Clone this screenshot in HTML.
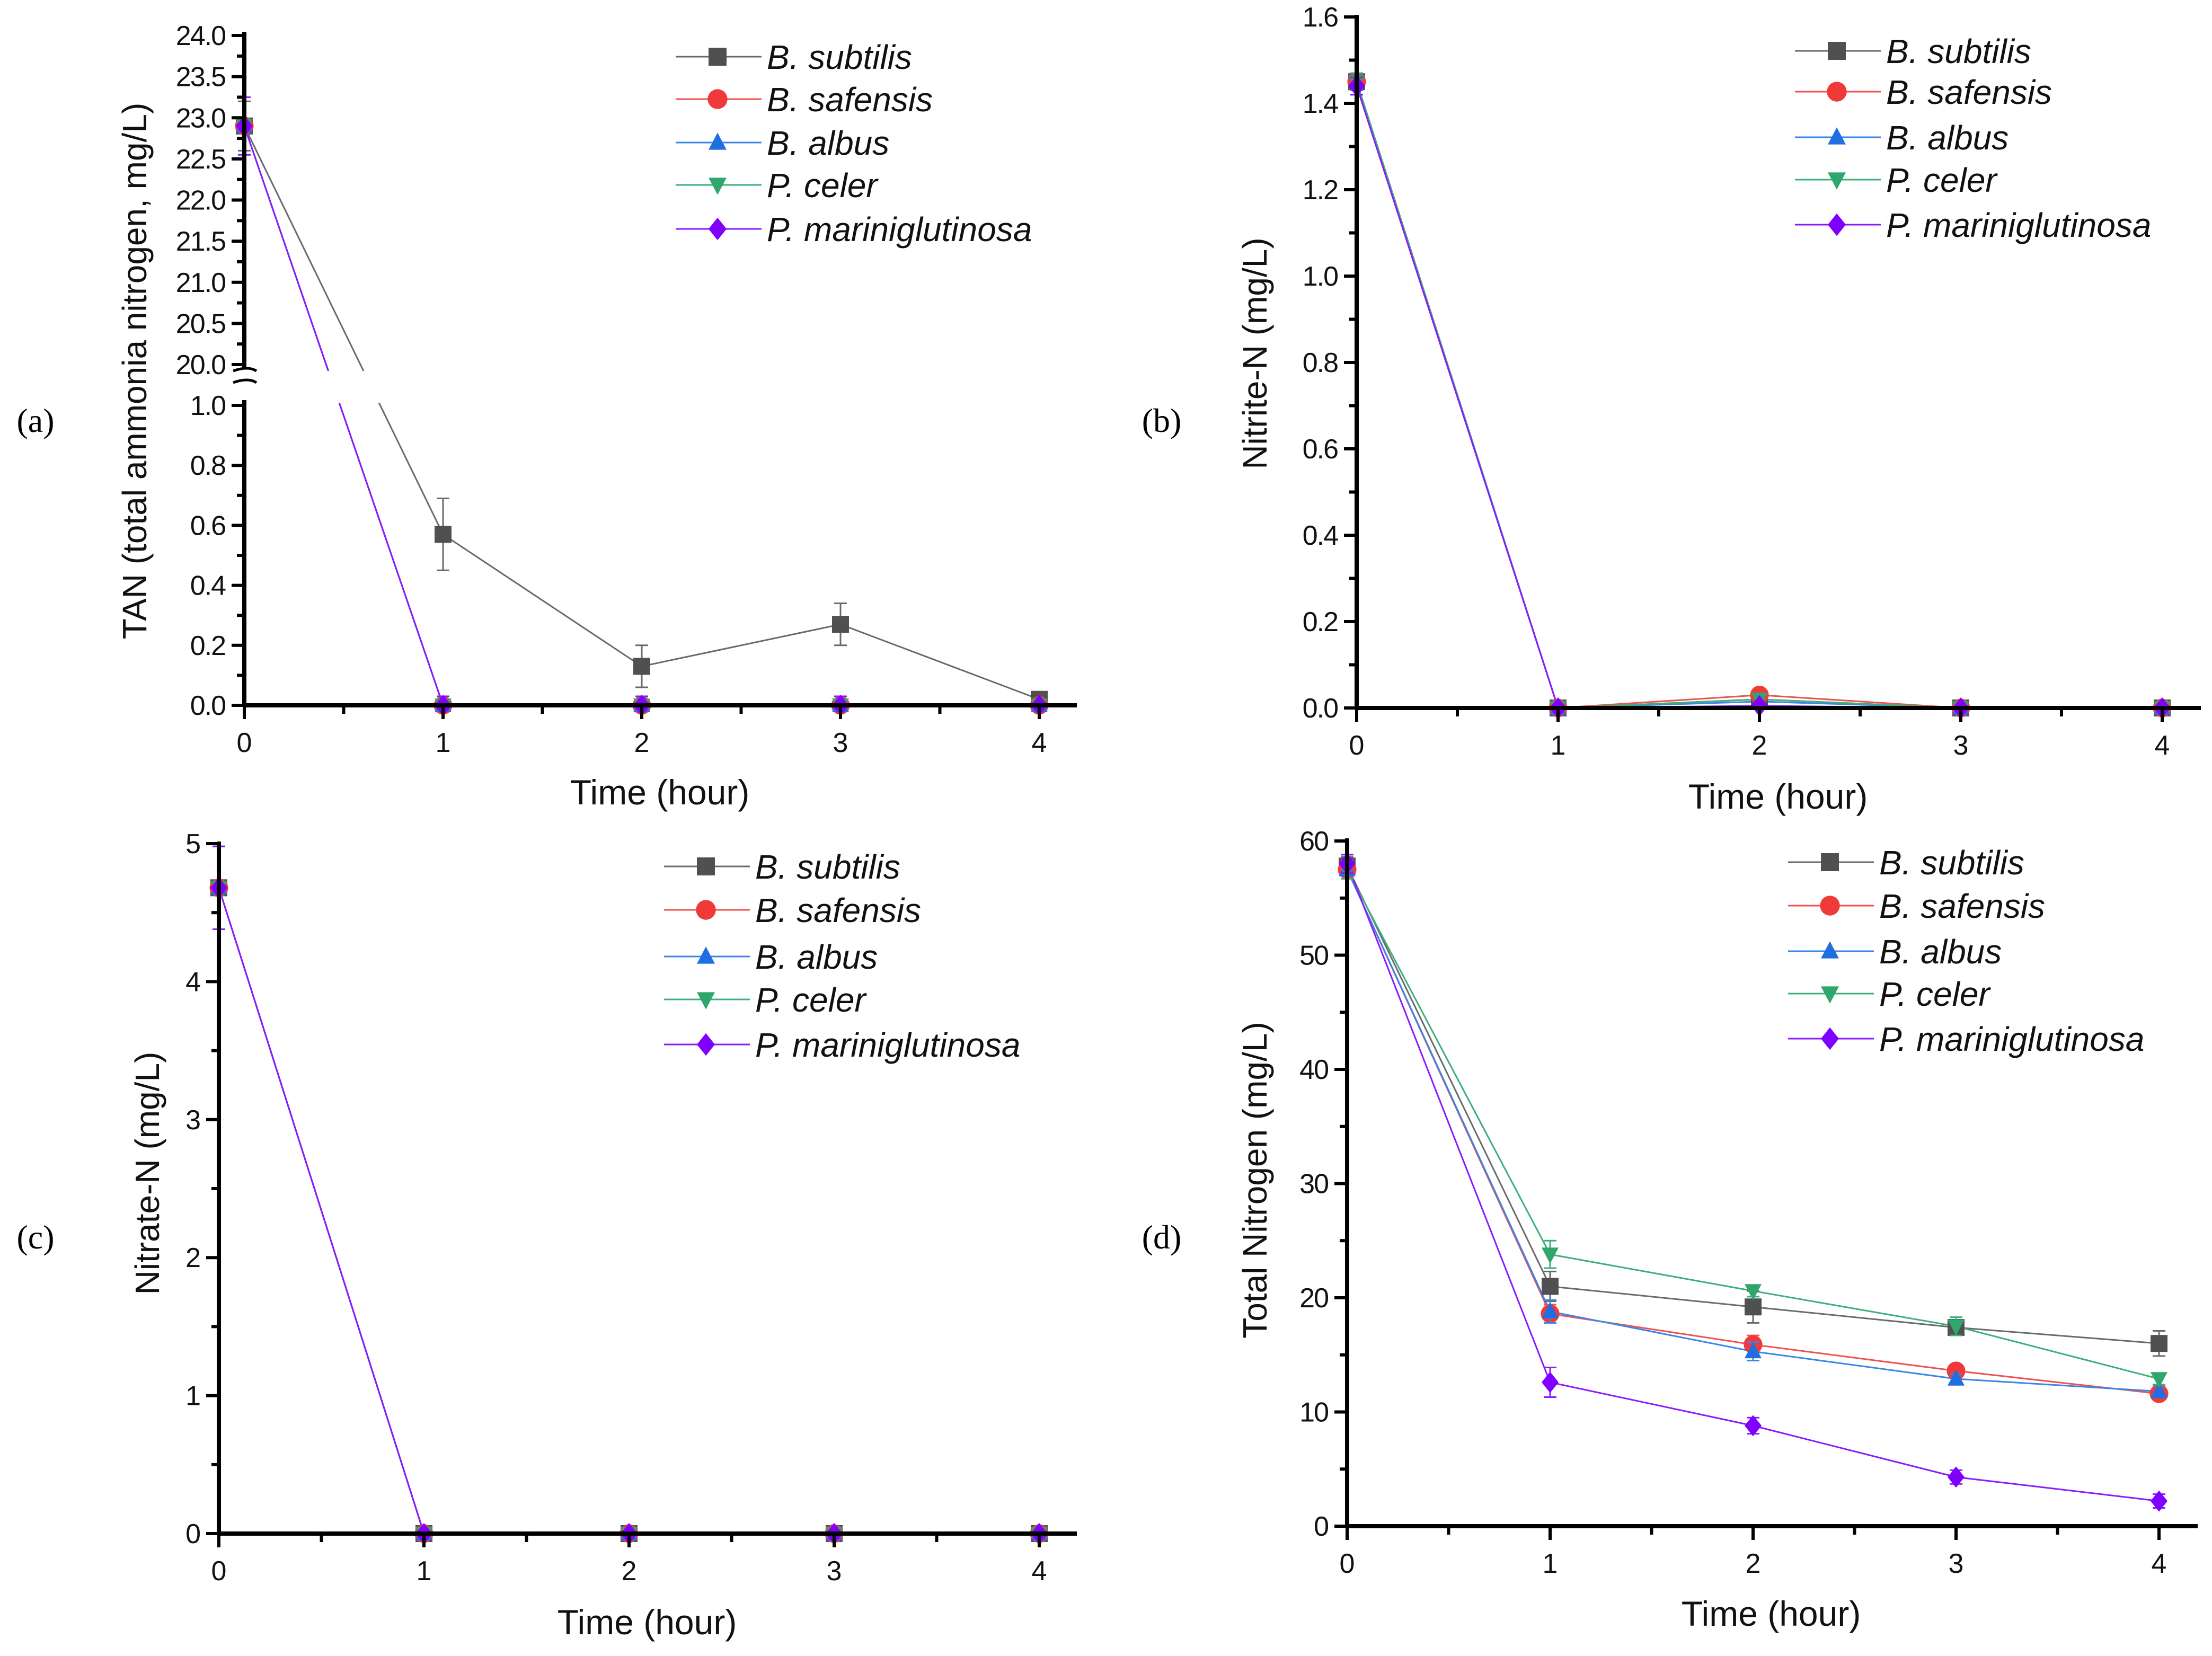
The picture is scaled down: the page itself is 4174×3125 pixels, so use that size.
<!DOCTYPE html>
<html><head><meta charset="utf-8"><style>
html,body{margin:0;padding:0;background:#fff;}
svg{display:block;font-family:"Liberation Sans",sans-serif;}
</style></head><body>
<svg id="fig" width="4174" height="3125" viewBox="0 0 4174 3125" xmlns="http://www.w3.org/2000/svg"></svg>
<script>
const times = [0, 1, 2, 3, 4];
const seriesNames = ["B. subtilis", "B. safensis", "B. albus", "P. celer", "P. mariniglutinosa"];
// Panel a (TAN)
const tanSubtilis = [22.9, 0.57, 0.13, 0.27, 0.02];
const tanSafensis = [22.9, 0, 0, 0, 0];
const tanAlbus = [22.9, 0, 0, 0, 0];
const tanCeler = [22.9, 0, 0, 0, 0];
const tanMarini = [22.9, 0, 0, 0, 0];
const tanSubtilisErr = [0.3, 0.12, 0.07, 0.07, 0.01];
const tanOtherErr = [0.35, 0.03, 0.03, 0.03, 0.01];
// Panel b (nitrite)
const niSubtilis = [1.45, 0, 0.02, 0, 0];
const niSafensis = [1.45, 0, 0.03, 0, 0];
const niAlbus = [1.45, 0, 0.015, 0, 0];
const niCeler = [1.45, 0, 0.02, 0, 0];
const niMarini = [1.44, 0, 0.005, 0, 0];
// Panel c (nitrate)
const naSubtilis = [4.68, 0, 0, 0, 0];
const naSafensis = [4.68, 0, 0, 0, 0];
const naAlbus = [4.68, 0, 0, 0, 0];
const naCeler = [4.68, 0, 0, 0, 0];
const naMarini = [4.68, 0, 0, 0, 0];
// Panel d (total nitrogen)
const tnSubtilis = [57.8, 21.0, 19.2, 17.4, 16.0];
const tnSafensis = [57.5, 18.6, 15.9, 13.6, 11.6];
const tnAlbus = [57.5, 18.8, 15.3, 12.9, 11.8];
const tnCeler = [57.5, 23.8, 20.6, 17.5, 12.9];
const tnMarini = [58.0, 12.6, 8.8, 4.3, 2.2];
const tnSubtilisErr = [0.8, 1.3, 1.4, 0.5, 1.1];
const tnSafensisErr = [0.8, 0.8, 0.8, 0.4, 0.5];
const tnAlbusErr = [0.8, 1.0, 0.8, 0.4, 0.5];
const tnCelerErr = [0.8, 1.2, 0.5, 0.8, 0.5];
const tnMariniErr = [0.8, 1.3, 0.7, 0.6, 0.6];
const xTicks = [0, 1, 2, 3, 4];
const aUpperTicks = ["20.0","20.5","21.0","21.5","22.0","22.5","23.0","23.5","24.0"];
const aLowerTicks = ["0.0","0.2","0.4","0.6","0.8","1.0"];
const bTicks = ["0.0","0.2","0.4","0.6","0.8","1.0","1.2","1.4","1.6"];
const cTicks = ["0","1","2","3","4","5"];
const dTicks = ["0","10","20","30","40","50","60"];

const colors = ["#505050", "#f03a3a", "#1f6fe0", "#2ea66c", "#8000ff"];
const lineColors = ["#6a6a6a", "#f05050", "#3a85e8", "#3cb07a", "#8a1aff"];
const shapes = ["square", "circle", "up", "down", "diamond"];
const NS = "http://www.w3.org/2000/svg";
const svg = document.getElementById("fig");

function mk(tag, attrs, parent, text) {
  const e = document.createElementNS(NS, tag);
  for (const k in attrs) e.setAttribute(k, attrs[k]);
  if (text !== undefined) e.textContent = text;
  (parent || svg).appendChild(e);
  return e;
}
function marker(g, shape, x, y, s, col) {
  let e;
  if (shape === "square") e = mk("rect", {x: x - s, y: y - s, width: 2 * s, height: 2 * s, fill: col}, g);
  else if (shape === "circle") e = mk("circle", {cx: x, cy: y, r: s * 1.1, fill: col}, g);
  else if (shape === "up") e = mk("polygon", {points: `${x},${y - s * 1.1} ${x - s},${y + s * 0.8} ${x + s},${y + s * 0.8}`, fill: col}, g);
  else if (shape === "down") e = mk("polygon", {points: `${x},${y + s * 1.1} ${x - s},${y - s * 0.8} ${x + s},${y - s * 0.8}`, fill: col}, g);
  else e = mk("polygon", {points: `${x},${y - s * 1.25} ${x - s},${y} ${x},${y + s * 1.25} ${x + s},${y}`, fill: col}, g);
  
  
  return e;
}

function panel(p) {
  const g = mk("g", {});
  
  
  const xs = t => p.x0 + t * p.dx;
  for (let i = 0; i < p.data.length; i++) {
    const sg = mk("g", {}, g);
    
    
    const pts = times.map((t, j) => xs(t) + "," + p.ys(p.data[i][j])).join(" ");
    mk("polyline", {points: pts, fill: "none", stroke: lineColors[i], "stroke-width": 3}, sg);
  }
  if (p.breakBand) {
    const r = mk("rect", {x: p.x0 + 6, y: p.breakBand[0], width: 600, height: p.breakBand[1] - p.breakBand[0], fill: "#fff"}, g);
    
    
  }
  for (let i = 0; i < p.data.length; i++) {
    const sg = mk("g", {}, g);
    
    
    times.forEach((t, j) => {
      const v = p.data[i][j];
      const e = p.err ? p.err[i][j] : 0;
      const x = xs(t);
      if (e > 0) {
        const y1 = p.ys(v + e), y2 = p.ys(Math.max(v - e, p.ymin));
        mk("line", {x1: x, x2: x, y1: y1, y2: y2, stroke: lineColors[i], "stroke-width": 3}, sg);
        mk("line", {x1: x - 12, x2: x + 12, y1: y1, y2: y1, stroke: lineColors[i], "stroke-width": 3}, sg);
        mk("line", {x1: x - 12, x2: x + 12, y1: y2, y2: y2, stroke: lineColors[i], "stroke-width": 3}, sg);
      }
      marker(sg, shapes[i], x, p.ys(v), 16, colors[i]);
    });
  }
  const ax = mk("line", {x1: p.x0, x2: p.xEnd, y1: p.axisY, y2: p.axisY, stroke: "#000", "stroke-width": 8}, g);
  
  
  const ay = mk("line", {x1: p.x0, x2: p.x0, y1: p.yTop, y2: p.axisY + 3, stroke: "#000", "stroke-width": 8}, g);
  
  
  xTicks.forEach(t => {
    const x = xs(t);
    mk("line", {x1: x, x2: x, y1: p.axisY, y2: p.axisY + 26, stroke: "#000", "stroke-width": 6}, g);
    if (t < 4) mk("line", {x1: xs(t + 0.5), x2: xs(t + 0.5), y1: p.axisY, y2: p.axisY + 16, stroke: "#000", "stroke-width": 6}, g);
    const tl = mk("text", {x: x, y: p.axisY + 88, "font-size": 52, "text-anchor": "middle", fill: "#111"}, g, String(t));
    
    
  });
  p.yTickSets.forEach(set => {
    set.labels.forEach((lab, k) => {
      const v = parseFloat(lab);
      const y = set.map(v);
      mk("line", {x1: p.x0 - 24, x2: p.x0, y1: y, y2: y, stroke: "#000", "stroke-width": 6}, g);
      if (k < set.labels.length - 1) {
        const ym = set.map(v + set.step / 2);
        mk("line", {x1: p.x0 - 14, x2: p.x0, y1: ym, y2: ym, stroke: "#000", "stroke-width": 6}, g);
      }
      const tl = mk("text", {x: p.x0 - 36, y: y + 18, "font-size": 52, "text-anchor": "end", fill: "#111", "letter-spacing": -2}, g, lab);
      
      
    });
  });
  const yt = mk("text", {x: 0, y: 0, "font-size": 64, "text-anchor": "middle", fill: "#111", transform: `translate(${p.yTitleX},${p.yTitleY}) rotate(-90)`}, g, p.yTitle);
  
  
  const xt = mk("text", {x: p.xTitleX, y: p.xTitleY, "font-size": 66, "text-anchor": "middle", fill: "#111"}, g, "Time (hour)");
  
  
  const pl = mk("text", {x: p.labelX, y: p.labelY, "font-size": 64, "text-anchor": "middle", fill: "#000", "font-family": "Liberation Serif, serif"}, g, p.label);
  
  
  const lg = mk("g", {}, g);
  
  
  seriesNames.forEach((n, i) => {
    const y = p.legY[i];
    const le = mk("g", {}, lg);
    
    
    mk("line", {x1: p.legX, x2: p.legX + 162, y1: y, y2: y, stroke: lineColors[i], "stroke-width": 3}, le);
    marker(le, shapes[i], p.legX + 79, y, 17, colors[i]);
    mk("text", {x: p.legX + 172, y: y + 23, "font-size": 64, "font-style": "italic", fill: "#111"}, le, n);
  });
}

const aUp = v => 688 - (v - 20) * 155.25;
const aLow = v => 1331 - v * 566;
const aMap = v => v >= 10 ? aUp(v) : aLow(v);
panel({name: "panel-a", x0: 461, dx: 375, xEnd: 2032, axisY: 1331, yTop: 60, ymin: 0,
  ys: aMap,
  data: [tanSubtilis, tanSafensis, tanAlbus, tanCeler, tanMarini],
  err: [tanSubtilisErr, tanOtherErr, tanOtherErr, tanOtherErr, tanOtherErr],
  breakBand: [700, 760],
  yTickSets: [{labels: aUpperTicks, map: aUp, step: 0.5}, {labels: aLowerTicks, map: aLow, step: 0.2}],
  yTitle: "TAN (total ammonia nitrogen, mg/L)", yTitleX: 276, yTitleY: 700,
  xTitleX: 1245, xTitleY: 1518, label: "(a)", labelX: 67, labelY: 815,
  legX: 1275, legY: [107, 187, 269, 349, 432]});
mk("rect", {x: 452, y: 695, width: 20, height: 60, fill: "#fff"});
mk("path", {d: "M440,700 q28,-10 44,0 M440,722 q28,-10 44,0", stroke: "#000", "stroke-width": 5, fill: "none"});

panel({name: "panel-b", x0: 2560, dx: 380, xEnd: 4153, axisY: 1336, yTop: 28, ymin: 0,
  ys: v => 1336 - v * 815,
  data: [niSubtilis, niSafensis, niAlbus, niCeler, niMarini],
  err: [[0.02,0,0,0,0],[0.02,0,0,0,0],[0.02,0,0,0,0],[0.02,0,0,0,0],[0.02,0,0,0,0]],
  yTickSets: [{labels: bTicks, map: v => 1336 - v * 815, step: 0.2}],
  yTitle: "Nitrite-N (mg/L)", yTitleX: 2390, yTitleY: 667,
  xTitleX: 3355, xTitleY: 1526, label: "(b)", labelX: 2192, labelY: 815,
  legX: 3387, legY: [96, 173, 259, 339, 424]});

panel({name: "panel-c", x0: 413, dx: 387, xEnd: 2032, axisY: 2894, yTop: 1588, ymin: 0,
  ys: v => 2894 - v * 260.4,
  data: [naSubtilis, naSafensis, naAlbus, naCeler, naMarini],
  err: [[0.3,0,0,0,0],[0.3,0,0,0,0],[0.3,0,0,0,0],[0.3,0,0,0,0],[0.3,0,0,0,0]],
  yTickSets: [{labels: cTicks, map: v => 2894 - v * 260.4, step: 1}],
  yTitle: "Nitrate-N (mg/L)", yTitleX: 300, yTitleY: 2214,
  xTitleX: 1221, xTitleY: 3084, label: "(c)", labelX: 67, labelY: 2356,
  legX: 1253, legY: [1635, 1717, 1805, 1886, 1971]});

panel({name: "panel-d", x0: 2542, dx: 383, xEnd: 4147, axisY: 2880, yTop: 1582, ymin: 0,
  ys: v => 2880 - v * 21.55,
  data: [tnSubtilis, tnSafensis, tnAlbus, tnCeler, tnMarini],
  err: [tnSubtilisErr, tnSafensisErr, tnAlbusErr, tnCelerErr, tnMariniErr],
  yTickSets: [{labels: dTicks, map: v => 2880 - v * 21.55, step: 10}],
  yTitle: "Total Nitrogen (mg/L)", yTitleX: 2390, yTitleY: 2227,
  xTitleX: 3342, xTitleY: 3068, label: "(d)", labelX: 2192, labelY: 2356,
  legX: 3374, legY: [1627, 1709, 1795, 1875, 1960]});
</script>
</body></html>
